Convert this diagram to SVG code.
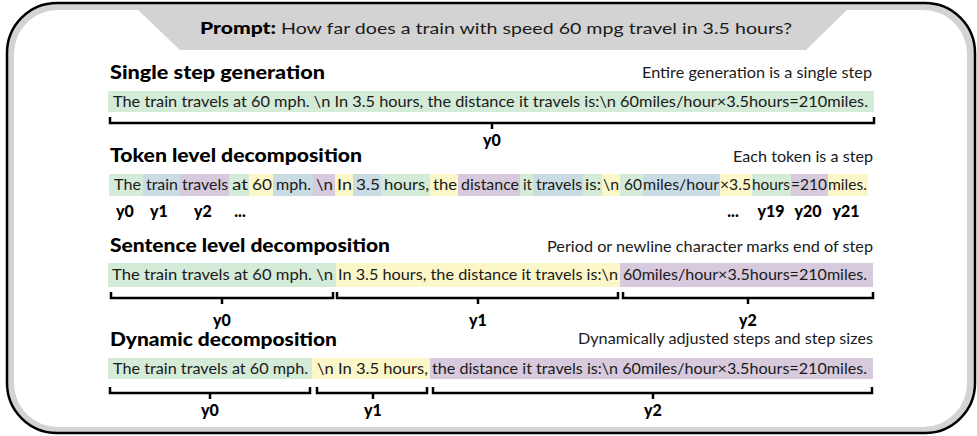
<svg xmlns="http://www.w3.org/2000/svg" width="977" height="436" viewBox="0 0 977 436">
<style>
text{font-family:Lato,"Liberation Sans",sans-serif;fill:#1a1a1a}
.h{font-weight:900;font-size:18px;fill:#000}
.d{font-size:15px}
.t{font-size:15px}
.l{font-weight:900;font-size:16px;fill:#000;text-anchor:middle}
.g{fill:#d4ebd8}.b{fill:#c9dce4}.p{fill:#d7cadd}.y{fill:#fcf7c9}
.br{fill:none;stroke:#000;stroke-width:2.5}
</style>
<g id="frame">
<rect x="7" y="3" width="968" height="430" rx="50" ry="50" fill="#d3d3d3" stroke="#000" stroke-width="2.5"/>
<rect x="14" y="10" width="953" height="417" rx="44" ry="44" fill="#fff"/>
<polygon points="137,9 848,9 806,50 180,50" fill="#d3d3d3"/>
</g>
<g id="prompt">
<text x="200" y="34" class="h" style="font-size:17px" textLength="76" lengthAdjust="spacingAndGlyphs">Prompt:</text>
<text x="281" y="34" class="d" style="font-size:16px" textLength="511" lengthAdjust="spacingAndGlyphs">How far does a train with speed 60 mpg travel in 3.5 hours?</text>
</g>
<g id="single">
<text x="110" y="79" class="h" textLength="215" lengthAdjust="spacingAndGlyphs">Single step generation</text>
<text x="642" y="78" class="d" textLength="230" lengthAdjust="spacingAndGlyphs">Entire generation is a single step</text>
<rect x="108" y="91" width="766" height="21" class="g"/>
<text x="113" y="106.5" class="t" textLength="755" lengthAdjust="spacingAndGlyphs">The train travels at 60 mph. \n In 3.5 hours, the distance it travels is:\n 60miles/hour×3.5hours=210miles.</text>
<text x="492" y="146" class="l">y0</text>
</g>
<g id="token">
<text x="110" y="162" class="h" textLength="252" lengthAdjust="spacingAndGlyphs">Token level decomposition</text>
<text x="733" y="162" class="d" textLength="140" lengthAdjust="spacingAndGlyphs">Each token is a step</text>
<rect x="109" y="174" width="34" height="22" class="g"/>
<rect x="143" y="174" width="36" height="22" class="b"/>
<rect x="179" y="174" width="50" height="22" class="p"/>
<rect x="229" y="174" width="20" height="22" class="g"/>
<rect x="249" y="174" width="24" height="22" class="y"/>
<rect x="273" y="174" width="40" height="22" class="b"/>
<rect x="313" y="174" width="22" height="22" class="p"/>
<rect x="335" y="174" width="18" height="22" class="y"/>
<rect x="353" y="174" width="28" height="22" class="b"/>
<rect x="381" y="174" width="49" height="22" class="g"/>
<rect x="430" y="174" width="28" height="22" class="y"/>
<rect x="458" y="174" width="62" height="22" class="p"/>
<rect x="520" y="174" width="13" height="22" class="g"/>
<rect x="533" y="174" width="50" height="22" class="b"/>
<rect x="583" y="174" width="19" height="22" class="g"/>
<rect x="602" y="174" width="18" height="22" class="y"/>
<rect x="620" y="174" width="23" height="22" class="g"/>
<rect x="643" y="174" width="77" height="22" class="b"/>
<rect x="720" y="174" width="32" height="22" class="y"/>
<rect x="752" y="174" width="39" height="22" class="g"/>
<rect x="791" y="174" width="37" height="22" class="p"/>
<rect x="828" y="174" width="40" height="22" class="y"/>
<text x="114" y="190" class="t" textLength="27" lengthAdjust="spacingAndGlyphs">The</text>
<text x="146" y="190" class="t" textLength="32" lengthAdjust="spacingAndGlyphs">train</text>
<text x="182" y="190" class="t" textLength="46" lengthAdjust="spacingAndGlyphs">travels</text>
<text x="232" y="190" class="t" textLength="16" lengthAdjust="spacingAndGlyphs">at</text>
<text x="252" y="190" class="t" textLength="20" lengthAdjust="spacingAndGlyphs">60</text>
<text x="276" y="190" class="t" textLength="35" lengthAdjust="spacingAndGlyphs">mph.</text>
<text x="316" y="190" class="t" textLength="17" lengthAdjust="spacingAndGlyphs">\n</text>
<text x="337" y="190" class="t" textLength="15" lengthAdjust="spacingAndGlyphs">In</text>
<text x="356" y="190" class="t" textLength="24" lengthAdjust="spacingAndGlyphs">3.5</text>
<text x="384" y="190" class="t" textLength="45" lengthAdjust="spacingAndGlyphs">hours,</text>
<text x="433" y="190" class="t" textLength="24" lengthAdjust="spacingAndGlyphs">the</text>
<text x="461" y="190" class="t" textLength="58" lengthAdjust="spacingAndGlyphs">distance</text>
<text x="523" y="190" class="t" textLength="9" lengthAdjust="spacingAndGlyphs">it</text>
<text x="536" y="190" class="t" textLength="46" lengthAdjust="spacingAndGlyphs">travels</text>
<text x="585" y="190" class="t" textLength="16" lengthAdjust="spacingAndGlyphs">is:</text>
<text x="603" y="190" class="t" textLength="16" lengthAdjust="spacingAndGlyphs">\n</text>
<text x="624" y="190" class="t" textLength="18" lengthAdjust="spacingAndGlyphs">60</text>
<text x="643" y="190" class="t" textLength="76" lengthAdjust="spacingAndGlyphs">miles/hour</text>
<text x="720" y="190" class="t" textLength="31" lengthAdjust="spacingAndGlyphs">×3.5</text>
<text x="752" y="190" class="t" textLength="38" lengthAdjust="spacingAndGlyphs">hours</text>
<text x="791" y="190" class="t" textLength="36" lengthAdjust="spacingAndGlyphs">=210</text>
<text x="828" y="190" class="t" textLength="39" lengthAdjust="spacingAndGlyphs">miles.</text>
<text x="125" y="217" class="l">y0</text>
<text x="159" y="217" class="l">y1</text>
<text x="203" y="217" class="l">y2</text>
<text x="240" y="217" class="l">...</text>
<text x="733" y="217" class="l">...</text>
<text x="771" y="217" class="l">y19</text>
<text x="808" y="217" class="l">y20</text>
<text x="846" y="217" class="l">y21</text>
</g>
<g id="sentence">
<text x="110" y="252" class="h" textLength="280" lengthAdjust="spacingAndGlyphs">Sentence level decomposition</text>
<text x="547" y="252" class="d" textLength="326" lengthAdjust="spacingAndGlyphs">Period or newline character marks end of step</text>
<rect x="108" y="263" width="228" height="24" class="g"/>
<rect x="336" y="263" width="284" height="24" class="y"/>
<rect x="620" y="263" width="253" height="24" class="p"/>
<text x="112" y="280" class="t" textLength="221" lengthAdjust="spacingAndGlyphs">The train travels at 60 mph. \n</text>
<text x="338" y="280" class="t" textLength="280" lengthAdjust="spacingAndGlyphs">In 3.5 hours, the distance it travels is:\n</text>
<text x="623" y="280" class="t" textLength="244" lengthAdjust="spacingAndGlyphs">60miles/hour×3.5hours=210miles.</text>
<text x="222" y="326" class="l">y0</text>
<text x="478" y="326" class="l">y1</text>
<text x="748" y="326" class="l">y2</text>
</g>
<g id="dynamic">
<text x="110" y="346" class="h" textLength="227" lengthAdjust="spacingAndGlyphs">Dynamic decomposition</text>
<text x="578" y="344" class="d" textLength="295" lengthAdjust="spacingAndGlyphs">Dynamically adjusted steps and step sizes</text>
<rect x="108" y="358" width="204" height="21" class="g"/>
<rect x="312" y="358" width="118" height="21" class="y"/>
<rect x="430" y="358" width="443" height="21" class="p"/>
<text x="113" y="373.5" class="t" textLength="195" lengthAdjust="spacingAndGlyphs">The train travels at 60 mph.</text>
<text x="317" y="373.5" class="t" textLength="111" lengthAdjust="spacingAndGlyphs">\n In 3.5 hours,</text>
<text x="432" y="373.5" class="t" textLength="435" lengthAdjust="spacingAndGlyphs">the distance it travels is:\n 60miles/hour×3.5hours=210miles.</text>
<text x="210" y="416" class="l">y0</text>
<text x="373" y="416" class="l">y1</text>
<text x="653" y="416" class="l">y2</text>
</g>
<g id="connectors">
<path class="br" d="M110,117V123H874V117M492,123V129"/>
<path class="br" d="M111,292V298H333V292M222,298V304"/>
<path class="br" d="M337,292V298H618V292M478,298V304"/>
<path class="br" d="M623,292V298H873V292M748,298V304"/>
<path class="br" d="M110,387V393H310V387M210,393V399"/>
<path class="br" d="M317,387V393H427V387M373,393V399"/>
<path class="br" d="M433,387V393H872V387M653,393V399"/>
</g>
</svg>
